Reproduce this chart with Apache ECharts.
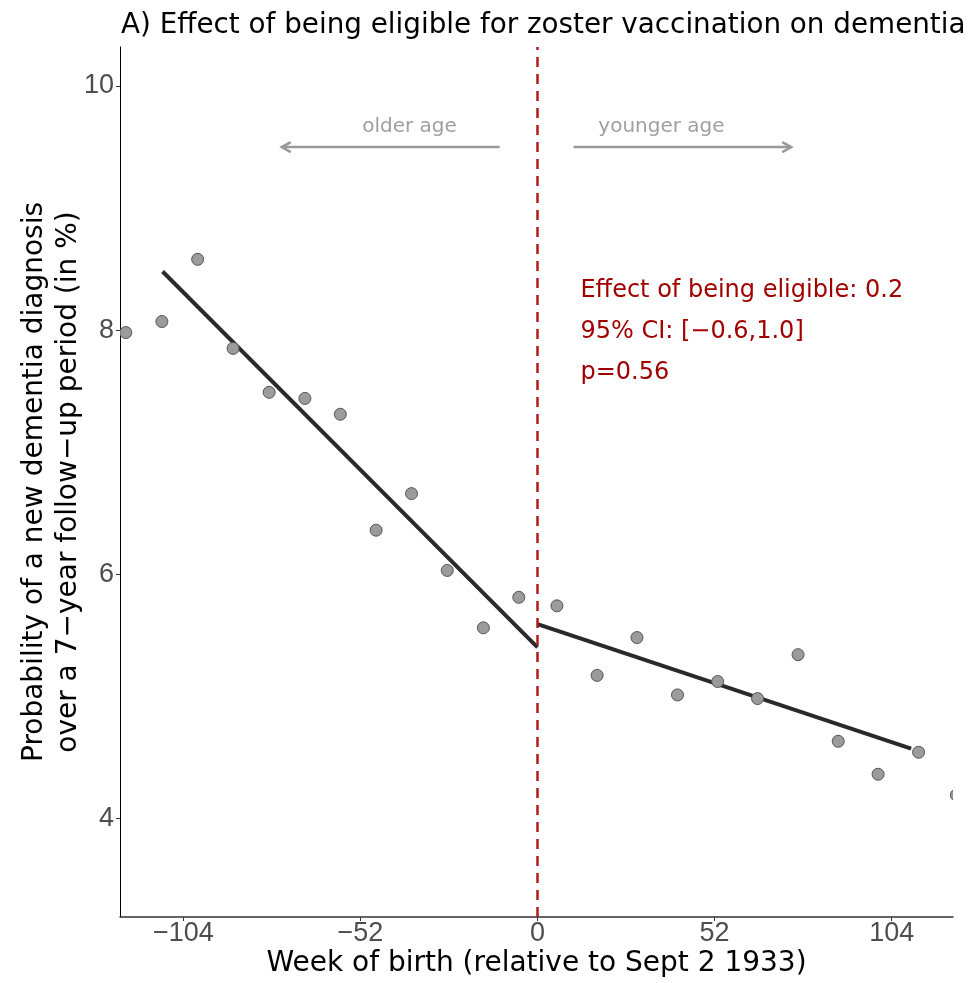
<!DOCTYPE html>
<html>
<head>
<meta charset="utf-8">
<script src="https://cdn.jsdelivr.net/npm/echarts@6/dist/echarts.min.js"></script>
<style>html,body{margin:0;padding:0;background:#fff}#c{width:971px;height:983px}</style>
</head>
<body>
<div id="c"></div>
<script>
// ---- data ----
const weeks = [-120.9,-110.3,-99.8,-89.4,-78.8,-68.3,-57.9,-47.4,-37.0,-26.5,-15.9,-5.5,
               5.7,17.5,29.2,41.1,52.9,64.6,76.5,88.3,100.0,111.9,123.0];
const probs = [7.98,8.07,8.58,7.85,7.49,7.44,7.31,6.36,6.66,6.03,5.56,5.81,
               5.74,5.17,5.48,5.01,5.12,4.98,5.34,4.63,4.36,4.54,4.19];
const fitLeft = [[-110.1,8.48],[0,5.40]];
const fitRight = [[0,5.59],[109.7,4.57]];
const xTicks = [-104,-52,0,52,104];
const yTicks = [4,6,8,10];
const arrows = [[-11.1,-75.1,9.50],[10.6,74.5,9.50]]; // from, to, y
const arrowLabels = [["older age",-37.6,9.67],["younger age",36.4,9.67]];
const effectLines = ["Effect of being eligible: 0.2","95% CI: [\u22120.6,1.0]","p=0.56"];
const effectPos = [12.6, 8.32, 0.335]; // x, first-line y, line step (data units)
const cutoff = 0;

const FONT = "'DejaVu Sans', sans-serif";
const NUMFONT = "'Liberation Sans', Arial, sans-serif";
const chart = echarts.init(document.getElementById('c'), null, {renderer:'canvas'});

const scatterData = weeks.map((w,i)=>[w, probs[i]]);

const option = {
  animation:false,
  backgroundColor:'#fff',
  title:{
    text:'A) Effect of being eligible for zoster vaccination on dementia',
    left:116, top:7,
    textStyle:{fontFamily:FONT, fontSize:27.8, fontWeight:'normal', color:'#000'}
  },
  grid:{left:120, right:18, top:47, bottom:66, containLabel:false},
  xAxis:{
    type:'value', min:-122.6, max:122.0,
    name:'Week of birth (relative to Sept 2 1933)',
    nameLocation:'middle', nameGap:33, nameMoveOverlap:false,
    nameTextStyle:{fontFamily:FONT, fontSize:28, color:'#000'},
    axisLine:{show:true, onZero:false, lineStyle:{color:'#333', width:1.5}},
    axisTick:{show:true, customValues:xTicks, length:4, lineStyle:{color:'#333'}},
    axisLabel:{customValues:xTicks, fontFamily:NUMFONT, fontSize:27, color:'#4d4d4d', margin:3,
      formatter:v=>String(v).replace('-','\u2212')},
    splitLine:{show:false}
  },
  yAxis:{
    type:'value', min:3.19, max:10.32,
    name:'Probability of a new dementia diagnosis\nover a 7\u2212year follow\u2212up period (in %)',
    nameLocation:'middle', nameGap:34, nameRotate:90, nameMoveOverlap:false,
    nameTextStyle:{fontFamily:FONT, fontSize:28, color:'#000', lineHeight:34},
    axisLine:{show:true, onZero:false, lineStyle:{color:'#000', width:1}},
    axisTick:{show:true, customValues:yTicks, length:4, lineStyle:{color:'#333'}},
    axisLabel:{customValues:yTicks, fontFamily:NUMFONT, fontSize:27, color:'#4d4d4d', margin:6},
    splitLine:{show:false}
  },
  series:[
    {
      type:'line', data:fitLeft, showSymbol:false, symbol:'none',
      lineStyle:{color:'#2a2a2a', width:4}, z:3,
      markLine:{
        silent:true, symbol:['none','none'], label:{show:false},
        lineStyle:{color:'#b31b1b', width:2.5, type:[10,7]},
        data:[{xAxis:cutoff}]
      }
    },
    {
      type:'line', data:fitRight, showSymbol:false, symbol:'none',
      lineStyle:{color:'#2a2a2a', width:4}, z:3
    },
    {
      type:'custom', data:scatterData, clip:true, z:4,
      renderItem:(params, api)=>{
        const p = api.coord([api.value(0), api.value(1)]);
        return {type:'circle', shape:{cx:p[0], cy:p[1], r:6},
          style:{fill:'#9b9b9b', stroke:'#555', lineWidth:1}};
      }
    },
    {
      type:'custom', data:arrows, clip:false, z:5, silent:true,
      renderItem:(params, api)=>{
        const a = api.coord([api.value(0), api.value(2)]);
        const b = api.coord([api.value(1), api.value(2)]);
        const dir = b[0] > a[0] ? 1 : -1;
        return {type:'group', children:[
          {type:'line', shape:{x1:a[0], y1:a[1], x2:b[0], y2:b[1]},
            style:{stroke:'#999', lineWidth:2.5}},
          {type:'polyline', shape:{points:[[b[0]-dir*9, b[1]-5],[b[0], b[1]],[b[0]-dir*9, b[1]+5]]},
            style:{stroke:'#999', lineWidth:2.5, fill:null}}
        ]};
      }
    },
    {
      type:'custom', data:arrowLabels.map(d=>[d[1], d[2], d[0]]), clip:false, z:5, silent:true,
      renderItem:(params, api)=>{
        const p = api.coord([api.value(0), api.value(1)]);
        return {type:'text', x:p[0], y:p[1],
          style:{text:arrowLabels[params.dataIndex][0], fill:'#a0a0a0', font:'20px ' + FONT,
            align:'center', verticalAlign:'middle'}};
      }
    },
    {
      type:'custom', data:effectLines.map((t,i)=>[effectPos[0], effectPos[1]-i*effectPos[2]]),
      clip:false, z:5, silent:true,
      renderItem:(params, api)=>{
        const p = api.coord([api.value(0), api.value(1)]);
        return {type:'text', x:p[0], y:p[1],
          style:{text:effectLines[params.dataIndex], fill:'#a00000', font:'24px ' + FONT,
            align:'left', verticalAlign:'middle'}};
      }
    }
  ]
};
chart.setOption(option);
</script>
</body>
</html>
